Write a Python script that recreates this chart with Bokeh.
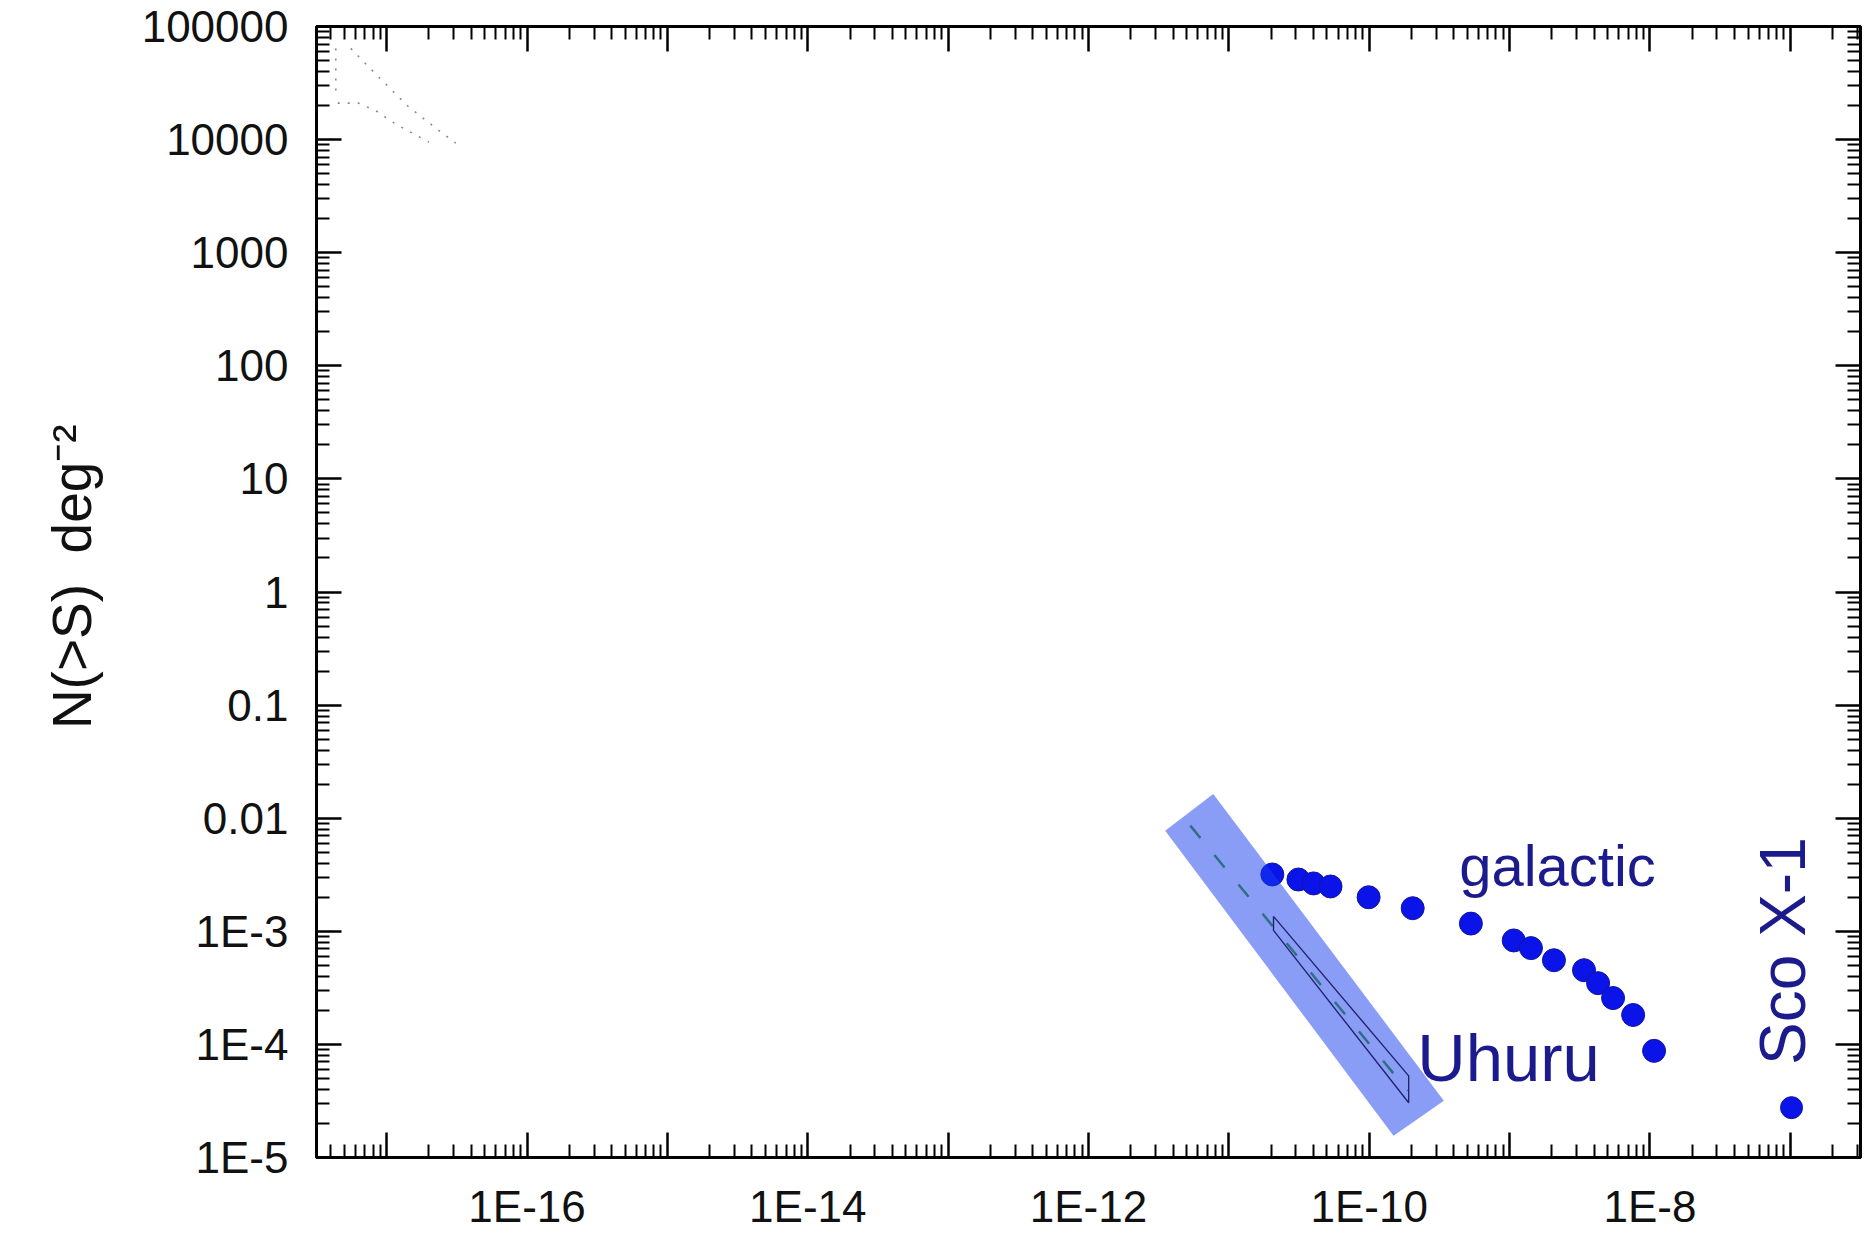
from bokeh.plotting import figure
from bokeh.models import Range1d, LogAxis, FixedTicker
from bokeh.core.properties import value
from bokeh.embed import file_html
from bokeh.resources import INLINE

# ---------------- data ----------------
galactic_S = [2.04e-11, 3.13e-11, 4.01e-11, 5.30e-11, 9.9e-11, 2.04e-10, 5.30e-10,
              1.07e-9, 1.42e-9, 2.07e-9, 3.39e-9, 4.27e-9, 5.46e-9, 7.59e-9, 1.07e-8]
galactic_N = [3.18e-3, 2.87e-3, 2.65e-3, 2.49e-3, 2.0e-3, 1.60e-3, 1.17e-3,
              8.3e-4, 7.1e-4, 5.55e-4, 4.53e-4, 3.48e-4, 2.57e-4, 1.82e-4, 8.77e-5]
sco_S = [1.02e-7]
sco_N = [2.76e-5]

uhuru_band_S = [3.52e-12, 7.74e-12, 3.40e-10, 1.49e-10]
uhuru_band_N = [7.76e-3, 1.64e-2, 3.18e-5, 1.56e-5]
uhuru_line_S = [5.31e-12, 1.88e-10]
uhuru_line_N = [8.59e-3, 3.89e-5]
uhuru_box_S = [2.08e-11, 2.08e-11, 1.91e-10, 1.91e-10]
uhuru_box_N = [1.355e-3, 1.02e-3, 3.05e-5, 5.27e-5]

deep_a_S = [4.34e-18, 4.34e-18]
deep_a_N = [6.4e4, 2.42e4]
deep_b_S = [4.48e-18, 6.32e-18, 8.49e-18, 1.16e-17, 1.61e-17, 2.0e-17]
deep_b_N = [2.10e4, 2.10e4, 1.78e4, 1.37e4, 1.10e4, 9.5e3]
deep_c_S = [5.55e-18, 8.79e-18, 1.42e-17, 2.28e-17, 3.11e-17]
deep_c_N = [6.40e4, 3.56e4, 1.97e4, 1.24e4, 9.3e3]

x_tick_values = [1e-17, 1e-16, 1e-15, 1e-14, 1e-13, 1e-12, 1e-11, 1e-10, 1e-9, 1e-8, 1e-7]
x_tick_labels = [" ", "1E-16", " ", "1E-14", " ", "1E-12", " ", "1E-10", " ", "1E-8", " "]
y_tick_values = [1e-5, 1e-4, 1e-3, 1e-2, 1e-1, 1.0, 10.0, 100.0, 1000.0, 10000.0, 100000.0]
y_tick_labels = ["1E-5", "1E-4", "1E-3", "0.01", "0.1", "1", "10", "100", "1000", "10000", "100000"]
minor_mults = [2, 3, 4, 5, 6, 7, 8, 9]

label_texts = ["galactic", "Uhuru", "Sco X-1"]
label_S = [4.37e-10, 2.20e-10, 8.93e-8]
label_N = [3.81e-3, 7.73e-5, 6.59e-5]

y_label = "\u00a0\u00a0N(>S)\u00a0\u00a0deg\u207b\u00b2"

# ---------------- figure ----------------
FONT = "Liberation Sans"
p = figure(width=1869, height=1239, x_axis_type="log", y_axis_type="log",
           x_range=Range1d(10 ** -17.5, 10 ** -6.5), y_range=Range1d(1e-5, 1e5),
           output_backend="svg", toolbar_location=None,
           min_border_left=316, min_border_right=9, min_border_top=26, min_border_bottom=82)
p.grid.visible = False
p.background_fill_color = "white"
p.border_fill_color = "white"
p.outline_line_color = "black"
p.outline_line_width = 3

x_minor = [m * t for t in [1e-18] + x_tick_values for m in minor_mults]
y_minor = [m * t for t in [1e-6] + y_tick_values for m in minor_mults]


def style_axis(ax, labels):
    ax.axis_line_width = 3
    ax.major_tick_in = 25
    ax.major_tick_out = 0
    ax.minor_tick_in = 13
    ax.minor_tick_out = 0
    ax.major_tick_line_width = 2.5
    ax.minor_tick_line_width = 2
    ax.major_label_text_font = FONT
    if labels:
        ax.major_label_text_color = "#111111"
        ax.major_label_text_font_size = "44px"
        ax.major_label_standoff = 24
    else:
        ax.major_label_text_color = None
        ax.major_label_text_font_size = "1px"
        ax.major_label_standoff = 0


xt = FixedTicker(ticks=x_tick_values, minor_ticks=x_minor)
yt = FixedTicker(ticks=y_tick_values, minor_ticks=y_minor)

xa = p.xaxis[0]
xa.ticker = xt
xa.major_label_overrides = {v: l for v, l in zip(x_tick_values, x_tick_labels)}
style_axis(xa, True)

ya = p.yaxis[0]
ya.ticker = yt
ya.major_label_overrides = {v: l for v, l in zip(y_tick_values, y_tick_labels)}
style_axis(ya, True)
ya.major_label_standoff = 28
ya.axis_label = y_label
ya.axis_label_text_font = FONT
ya.axis_label_text_font_size = "55px"
ya.axis_label_text_font_style = "normal"
ya.axis_label_text_color = "#111111"
ya.axis_label_standoff = 36

top = LogAxis(ticker=FixedTicker(ticks=x_tick_values, minor_ticks=x_minor))
style_axis(top, False)
p.add_layout(top, "above")
right = LogAxis(ticker=FixedTicker(ticks=y_tick_values, minor_ticks=y_minor))
style_axis(right, False)
p.add_layout(right, "right")

# faint dotted lines (top-left)
for xs, ys in [(deep_a_S, deep_a_N), (deep_b_S, deep_b_N), (deep_c_S, deep_c_N)]:
    p.line(xs, ys, line_color="#8a8a8a", line_width=1.6, line_dash="2 8")

# galactic points and Sco X-1
p.scatter(galactic_S, galactic_N, size=23, fill_color="#0a14e8", line_color="#15159a", line_width=1)
p.scatter(sco_S, sco_N, size=22, fill_color="#0a14e8", line_color="#15159a", line_width=1)

# Uhuru band
p.patch(uhuru_band_S, uhuru_band_N, fill_color="#143cf0", fill_alpha=0.5, line_color=None)
p.line(uhuru_line_S, uhuru_line_N, line_color="#2f6f82", line_width=2.5, line_dash="16 22")
p.patch(uhuru_box_S, uhuru_box_N, fill_color=None, line_color="#24246e", line_width=1.4)

# annotations
NAVY = "#1b1b8e"
p.text(x=[label_S[0]], y=[label_N[0]], text=[label_texts[0]], text_font=value(FONT),
       text_font_size=value("58px"), text_color=NAVY, text_align="left", text_baseline="alphabetic")
p.text(x=[label_S[1]], y=[label_N[1]], text=[label_texts[1]], text_font=value(FONT),
       text_font_size=value("67px"), text_color=NAVY, text_align="left", text_baseline="alphabetic")
p.text(x=[label_S[2]], y=[label_N[2]], text=[label_texts[2]], text_font=value(FONT),
       text_font_size=value("64px"), text_color=NAVY, text_align="left", text_baseline="alphabetic",
       angle=1.5707963267948966)

open("out.html", "w").write(file_html(p, INLINE))
